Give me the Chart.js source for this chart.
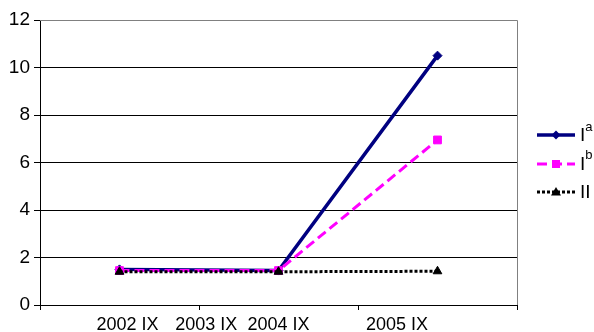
<!DOCTYPE html>
<html>
<head>
<meta charset="utf-8">
<script src="https://cdn.jsdelivr.net/npm/chart.js@4/dist/chart.umd.min.js"></script>
<style>
  html, body { margin: 0; padding: 0; background: #fff; }
  #wrap { position: relative; width: 594px; height: 332px; }
  #chart { position: absolute; left: 0; top: 0; }
  #legend {
    position: absolute; left: 537px; top: 121px;
    font-family: "Liberation Sans", Arial, sans-serif; font-size: 19px; color: #000;
  }
  #legend .row { display: flex; align-items: center; height: 28.5px; }
  #legend svg { display: block; margin-right: 5px; }
  #legend sup { font-size: 13px; position: relative; top: -3px; line-height: 0; }
</style>
</head>
<body>
<div id="wrap">
  <canvas id="chart" width="594" height="332"></canvas>
  <div id="legend"></div>
</div>
<script>
// Axis labels along the bottom and where each one sits (in band units)
const tickLabels = ['2002 IX', '2003 IX', '2004 IX', '2005 IX'];
const tickAt = [0.55, 1.045, 1.5, 2.245];

// Number of measurement bands on the x axis
const bandCount = 3;

// Series values, one per band
const seriesIa = [1.5, 1.45, 10.5];
const seriesIb = [1.45, 1.45, 6.95];
const seriesII = [1.4, 1.4, 1.42];

// Legend names: base text and superscript
const seriesBase = ['I', 'I', 'II'];
const seriesSup = ['a', 'b', ''];

const FONT = '"Liberation Sans", Arial, sans-serif';

const toPoints = vals => vals.map((v, i) => ({ x: i + 0.5, y: v }));

const styles = [
  { color: '#000080', dash: [], width: 3.5, point: 'rectRot', radius: 4.5 },
  { color: '#FF00FF', dash: [10, 5], width: 3, point: 'rect', radius: 5.5 },
  { color: '#000000', dash: [3, 2], width: 3, point: 'triangle', radius: 5 }
];
const seriesValues = [seriesIa, seriesIb, seriesII];

const datasets = seriesValues.map((vals, k) => ({
  label: seriesBase[k] + seriesSup[k],
  data: toPoints(vals),
  borderColor: styles[k].color,
  backgroundColor: styles[k].color,
  borderWidth: styles[k].width,
  borderDash: styles[k].dash,
  pointStyle: styles[k].point,
  pointRadius: styles[k].radius,
  pointBorderWidth: 1,
  pointBorderColor: styles[k].color,
  pointBackgroundColor: styles[k].color,
  tension: 0,
  order: 2 - k
}));

// Plot frame (grey top/right edges) and tick marks at band edges
const framePlugin = {
  id: 'frame',
  beforeDatasetsDraw(chart) {
    const { ctx, chartArea: a } = chart;
    const xs = chart.scales.x;
    ctx.save();
    ctx.lineWidth = 1;
    ctx.strokeStyle = '#808080';
    ctx.beginPath();
    ctx.moveTo(a.left, a.top + 0.5);
    ctx.lineTo(a.right + 0.5, a.top + 0.5);
    ctx.lineTo(a.right + 0.5, a.bottom);
    ctx.stroke();
    ctx.strokeStyle = '#000';
    ctx.beginPath();
    for (let i = 0; i <= bandCount; i++) {
      const px = Math.round(xs.getPixelForValue(i)) + 0.5;
      ctx.moveTo(px, a.bottom);
      ctx.lineTo(px, a.bottom + 5);
    }
    ctx.stroke();
    ctx.restore();
  }
};

new Chart(document.getElementById('chart'), {
  type: 'line',
  data: { datasets },
  options: {
    responsive: false,
    animation: false,
    layout: { padding: { top: 20, right: 77, left: 0, bottom: 0 } },
    plugins: { legend: { display: false }, tooltip: { enabled: false } },
    scales: {
      x: {
        type: 'linear',
        min: 0,
        max: bandCount,
        afterBuildTicks: s => { s.ticks = tickAt.map(v => ({ value: v })); },
        afterFit: s => { s.height = 27; },
        ticks: {
          callback: (v, i) => tickLabels[i],
          autoSkip: false,
          maxRotation: 0,
          color: '#000',
          padding: 9,
          font: { family: FONT, size: 18 }
        },
        grid: { display: false, drawTicks: false },
        border: { display: true, color: '#000', width: 1 }
      },
      y: {
        min: 0,
        max: 12,
        afterFit: s => { s.width = 40; },
        ticks: {
          stepSize: 2,
          color: '#000',
          padding: 4,
          font: { family: FONT, size: 19 }
        },
        grid: { color: '#000', lineWidth: 1, tickLength: 6, tickColor: '#000' },
        border: { display: true, color: '#000', width: 1 }
      }
    }
  },
  plugins: [framePlugin]
});

// Legend with superscripts
const legend = document.getElementById('legend');
datasets.forEach((d, k) => {
  const st = styles[k];
  const row = document.createElement('div');
  row.className = 'row';
  const cx = 19, cy = 6;
  let marker = '';
  if (st.point === 'rectRot') {
    marker = `<polygon points="${cx},${cy - 4.5} ${cx + 4.5},${cy} ${cx},${cy + 4.5} ${cx - 4.5},${cy}" fill="${st.color}"/>`;
  } else if (st.point === 'rect') {
    marker = `<rect x="${cx - 4}" y="${cy - 4}" width="8" height="8" fill="${st.color}"/>`;
  } else {
    marker = `<polygon points="${cx},${cy - 5} ${cx + 5},${cy + 3.5} ${cx - 5},${cy + 3.5}" fill="${st.color}"/>`;
  }
  row.innerHTML =
    `<svg width="38" height="12" viewBox="0 0 38 12">` +
    `<line x1="0" y1="${cy}" x2="38" y2="${cy}" stroke="${st.color}" stroke-width="${st.width}" stroke-dasharray="${st.dash.join(' ') || 'none'}"/>` +
    marker + `</svg>` +
    `<span>${seriesBase[k]}${seriesSup[k] ? '<sup>' + seriesSup[k] + '</sup>' : ''}</span>`;
  legend.appendChild(row);
});
</script>
</body>
</html>
